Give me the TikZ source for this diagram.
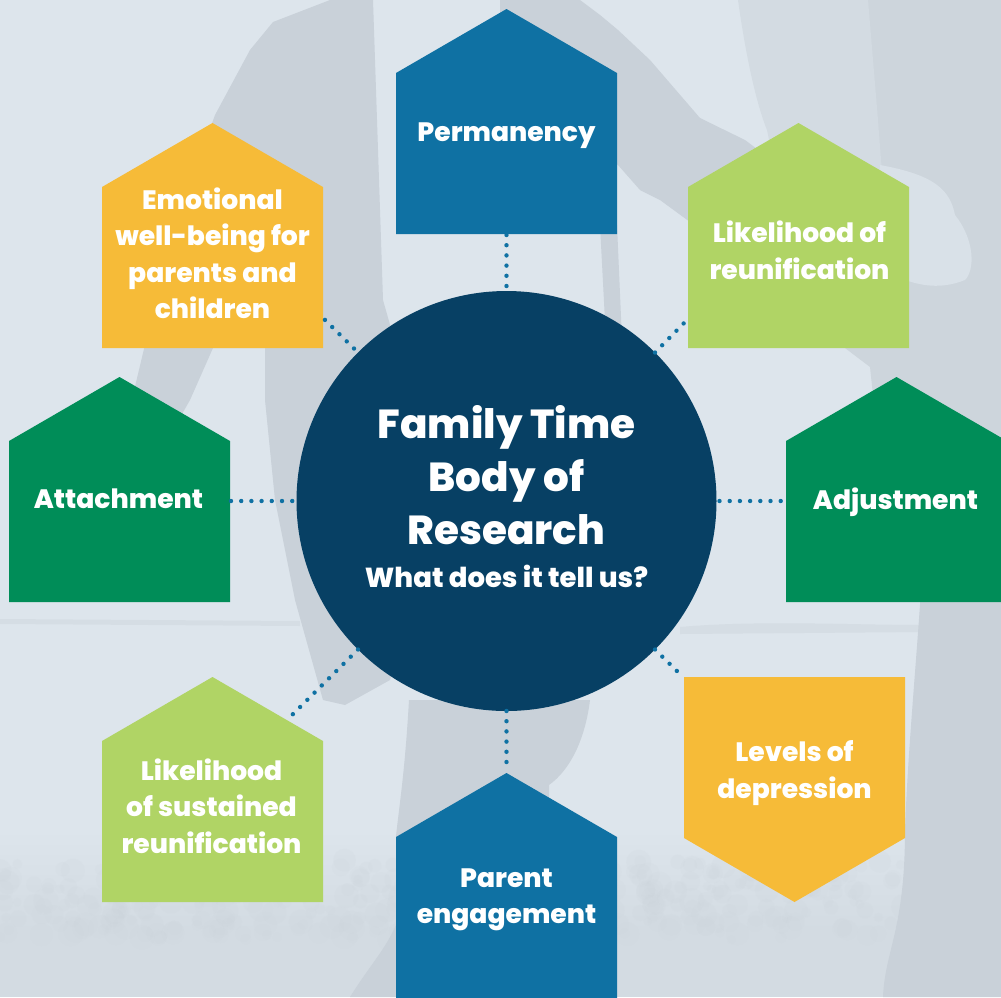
\documentclass[tikz,border=0pt]{standalone}
\usepackage{fontspec}
\setmainfont{Poppins}[BoldFont={Poppins ExtraBold}]
\definecolor{bgbase}{HTML}{DDE5EC}
\definecolor{bgdark}{HTML}{C9D1D9}
\definecolor{bgmid}{HTML}{D3DBE2}
\definecolor{bgband}{HTML}{CDD5DC}
\definecolor{bglight}{HTML}{D9E1E8}
\definecolor{cblue}{HTML}{0F71A3}
\definecolor{cnavy}{HTML}{074064}
\definecolor{cgreen}{HTML}{008D58}
\definecolor{clime}{HTML}{B0D465}
\definecolor{camber}{HTML}{F6BB38}
\tikzset{
  bodybox/.style={minimum width=221pt,minimum height=161pt,inner sep=0pt,outer sep=0pt},
  hubnode/.style={circle,fill=cnavy,minimum size=420pt,inner sep=0pt,outer sep=0pt},
  dotlink/.style={cblue,line width=4.4pt,line cap=round,dash pattern=on 0pt off 10.2pt},
  label/.style={text=white,align=center,font=\fontsize{26.6}{36.5}\selectfont\bfseries,inner sep=0pt},
  bigtitle/.style={text=white,align=center,font=\fontsize{40.5}{53}\selectfont\bfseries,inner sep=0pt},
  subtitle/.style={text=white,align=center,font=\fontsize{27.5}{36}\selectfont\bfseries,inner sep=0pt},
}
\newcommand{\houseup}[3]{%
  \begin{scope}[shift={(#2)}]
    \fill[#3] (-110.5,64) -- (0,0) -- (110.5,64) -- (110.5,225) -- (-110.5,225) -- cycle;
    \node[bodybox] (#1) at (0,144.5) {};
  \end{scope}}
\newcommand{\housedown}[3]{%
  \begin{scope}[shift={(#2)}]
    \fill[#3] (-110.5,0) -- (110.5,0) -- (110.5,161) -- (0,225) -- (-110.5,161) -- cycle;
    \node[bodybox] (#1) at (0,80.5) {};
  \end{scope}}
\begin{document}
\begin{tikzpicture}[x=1pt,y=-1pt]
\useasboundingbox (0,0) rectangle (1001,997);
\clip (0,0) rectangle (1001,997);
% photographic background
\fill[bgbase] (0,0) rectangle (1001,997);
\fill[top color=bgbase,bottom color=bgmid] (0,830) rectangle (1001,930);
\fill[bgmid] (0,930) rectangle (1001,997);
% ground and grass
\fill[bgmid,opacity=.7] (0,619) -- (300,621) -- (300,626) -- (0,624) -- cycle;
\fill[bgmid,opacity=.8] (680,627) .. controls (760,620) and (850,625) .. (925,625) -- (925,632) -- (680,634) -- cycle;
\pgfmathsetseed{7}
\foreach \i in {1,...,420}{
  \pgfmathsetmacro{\gx}{rnd*905}
  \pgfmathsetmacro{\gy}{860+rnd*80}
  \pgfmathsetmacro{\gr}{4+rnd*9}
  \fill[bgband,opacity=.16] (\gx,\gy) circle (\gr);
}
% left person: sleeve and jacket
\fill[bgdark] (330,0) -- (273,22) -- (250,50) -- (215,115) -- (170,240) -- (133,395) -- (150,470) -- (190,400) -- (213,348) -- (265,348) -- (265,400) -- (275,500) -- (295,600) -- (323,700) -- (345,705) -- (390,680) -- (410,600) -- (400,360) -- (383,300) -- (373,0) -- cycle;
% reaching arm
\fill[bgdark] (500,0) -- (580,0) -- (600,15) -- (618,30) -- (650,60) -- (700,118) -- (745,140) -- (765,155) -- (765,270) -- (690,222) -- (660,200) -- (640,190) -- (618,165) -- (500,100) -- cycle;
\fill[bgdark] (600,225) -- (617,225) -- (622,340) -- (606,340) -- cycle;
% legs
\fill[bgdark] (409,700) -- (590,700) .. controls (585,740) and (570,770) .. (549,785) -- (549,997) -- (396,997) -- (396,836) .. controls (400,800) and (405,770) .. (409,700) -- cycle;
\fill[bgdark] (396,925) .. controls (385,950) and (370,965) .. (350,997) -- (396,997) -- cycle;
% right person
\fill[bgband] (865,0) -- (1001,0) -- (1001,460) -- (880,460) -- (870,367) -- (845,348) -- (880,150) -- (875,120) -- cycle;
\fill[bgmid] (738,0) .. controls (745,50) and (755,100) .. (767,130) -- (790,240) -- (885,240) .. controls (885,200) and (880,150) .. (878,120) -- (868,0) -- cycle;
\fill[bglight] (880,165) .. controls (935,175) and (950,190) .. (955,215) .. controls (975,240) and (975,270) .. (965,280) .. controls (940,290) and (920,285) .. (905,280) -- (880,250) -- cycle;
\fill[bgdark] (921,590) -- (1001,590) -- (1001,997) -- (883,997) .. controls (885,950) and (905,930) .. (905,830) .. controls (908,750) and (915,680) .. (921,590) -- cycle;
% blocks
\houseup{perm}{506.5,9}{cblue}
\houseup{emo}{212.5,123}{camber}
\houseup{reun}{798.5,123}{clime}
\houseup{attach}{119.5,377}{cgreen}
\houseup{adjust}{896.5,377}{cgreen}
\houseup{sust}{212.5,677}{clime}
\houseup{engage}{506.5,773}{cblue}
\housedown{depress}{794.5,677}{camber}
\node[hubnode] (hub) at (506.5,501) {};
% connector ends that lie off the anchors
\coordinate (emoEnd) at (323,318);
\coordinate (reunEnd) at (687,320);
\coordinate (sustEnd) at (289,718);
\coordinate (depressEnd) at (680,674);
\coordinate (engageEnd) at (506.5,772);
\coordinate (attachEnd) at (231,501);
\coordinate (adjustEnd) at (785,501);
% connectors
\draw[dotlink] (hub.north) ++(0,-5) -- (perm.south);
\draw[dotlink] (hub.135) ++(-4,-4) -- (emoEnd);
\draw[dotlink] (hub.45) -- (reunEnd);
\draw[dotlink] (attachEnd) -- (hub.west);
\draw[dotlink] (hub.east) ++(3,0) -- (adjustEnd);
\draw[dotlink] (hub.225) -- (sustEnd);
\draw[dotlink] (hub.315) -- (depressEnd);
\draw[dotlink] (hub.south) -- (engageEnd);
% labels
\node[label] (tperm) at (506.5,136) {Permanency};
\node[label] (temo) at (212.5,253) {Emotional\\well-being for\\parents and\\children};
\node[label] (treun) at (799.5,250) {Likelihood of\\reunification};
\node[label] (tattach) at (118.5,499) {Attachment};
\node[label] (tadjust) at (895.5,502) {Adjustment};
\node[label] (tsust) at (211.5,806) {Likelihood\\of sustained\\reunification};
\node[label] (tengage) at (506.5,900) {Parent\\engagement};
\node[label] (tdepress) at (794.5,773) {Levels of\\depression};
\node[bigtitle] (ttitle) at (506.5,475) {Family Time\\Body of\\Research};
\node[subtitle] (tsub) at (506.5,576) {What does it tell us?};
\end{tikzpicture}
\end{document}
